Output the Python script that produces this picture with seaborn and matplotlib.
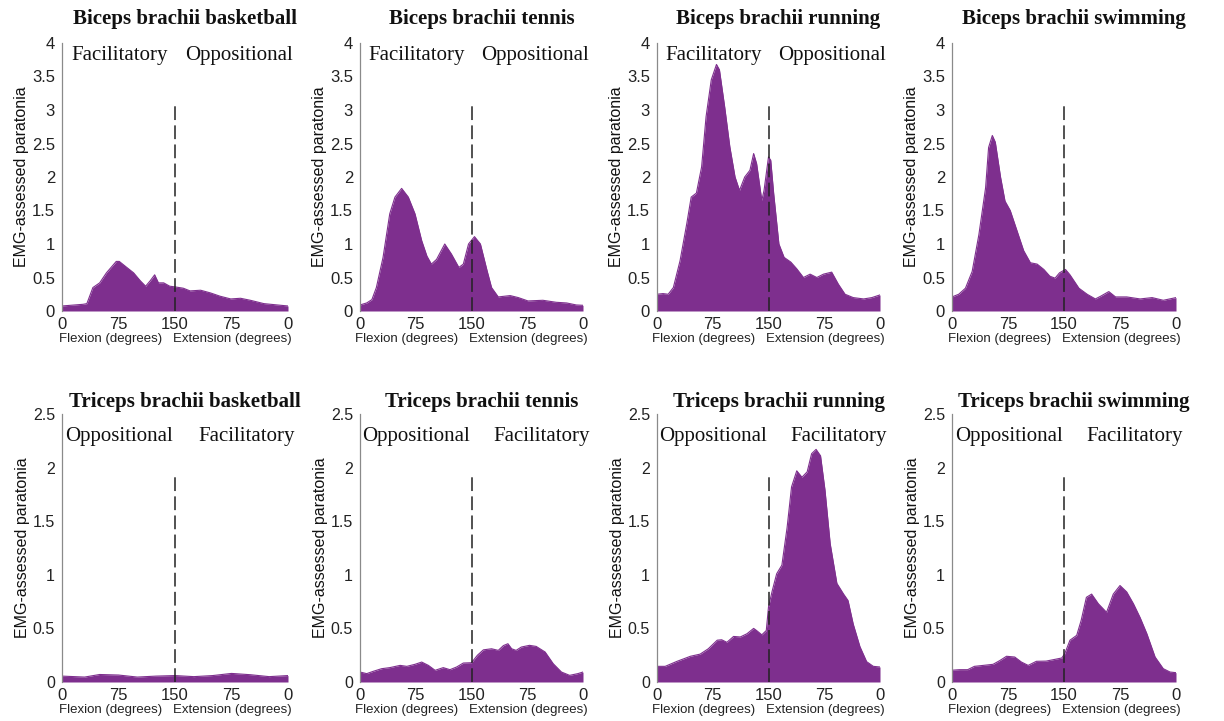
import numpy as np
import pandas as pd
import matplotlib
matplotlib.use("Agg")
import matplotlib.pyplot as plt
import seaborn as sns

# ---------------- data (x: 0-150 flexion, 150-300 = extension 150->0) ----------------
bic_basket_x = [0, 28, 33, 41, 50, 59, 72, 76, 86, 95, 104, 111, 117, 123, 128, 135, 143, 150,
                161, 170, 184, 197, 210, 224, 237, 250, 268, 286, 300]
bic_basket_y = [0.075, 0.10, 0.11, 0.35, 0.42, 0.57, 0.74, 0.74, 0.65, 0.57, 0.45, 0.37, 0.45, 0.54,
                0.42, 0.42, 0.37, 0.36, 0.34, 0.30, 0.31, 0.27, 0.22, 0.18, 0.19, 0.16, 0.11, 0.09, 0.075]

bic_tennis_x = [0, 9, 16, 22, 31, 40, 47, 56, 65, 74, 83, 90, 96, 103, 114, 123, 133, 139, 146, 154,
                162, 171, 177, 186, 202, 213, 226, 246, 264, 278, 291, 300]
bic_tennis_y = [0.09, 0.12, 0.17, 0.35, 0.80, 1.45, 1.70, 1.83, 1.70, 1.45, 1.05, 0.82, 0.70, 0.77,
                1.00, 0.85, 0.65, 0.70, 1.00, 1.11, 1.00, 0.60, 0.35, 0.21, 0.23, 0.20, 0.15, 0.16,
                0.13, 0.12, 0.09, 0.085]

bic_run_x = [0, 8, 15, 22, 31, 40, 46, 53, 60, 66, 73, 80, 84, 91, 98, 105, 111, 118, 125, 130, 134,
             141, 144, 150, 153, 157, 164, 171, 180, 188, 197, 206, 215, 224, 235, 244, 253, 264, 278,
             289, 300]
bic_run_y = [0.25, 0.26, 0.25, 0.35, 0.75, 1.30, 1.70, 1.76, 2.15, 2.90, 3.45, 3.68, 3.60, 3.05, 2.45,
             2.00, 1.80, 2.00, 2.10, 2.35, 2.20, 1.65, 1.80, 2.30, 2.25, 1.75, 1.00, 0.80, 0.73, 0.63,
             0.50, 0.55, 0.50, 0.55, 0.58, 0.40, 0.25, 0.20, 0.18, 0.20, 0.24]

bic_swim_x = [0, 9, 18, 27, 36, 45, 49, 54, 58, 65, 71, 78, 87, 96, 105, 114, 123, 131, 138, 144, 152,
              158, 170, 181, 192, 199, 210, 219, 234, 252, 268, 283, 300]
bic_swim_y = [0.21, 0.25, 0.34, 0.59, 1.14, 1.84, 2.44, 2.62, 2.52, 2.00, 1.64, 1.50, 1.20, 0.90, 0.72,
              0.70, 0.62, 0.52, 0.49, 0.57, 0.62, 0.54, 0.34, 0.25, 0.18, 0.22, 0.29, 0.21, 0.21, 0.18,
              0.20, 0.16, 0.20]

tri_basket_x = [0, 30, 50, 75, 100, 125, 150, 175, 200, 225, 250, 275, 300]
tri_basket_y = [0.055, 0.046, 0.07, 0.065, 0.046, 0.055, 0.06, 0.05, 0.06, 0.08, 0.068, 0.05, 0.06]

tri_tennis_x = [0, 9, 18, 29, 40, 54, 63, 74, 83, 92, 101, 112, 121, 130, 139, 150, 158, 166, 177, 186,
                193, 199, 204, 210, 217, 228, 237, 249, 260, 271, 282, 293, 300]
tri_tennis_y = [0.093, 0.078, 0.10, 0.124, 0.134, 0.155, 0.146, 0.165, 0.186, 0.155, 0.109, 0.134,
                0.115, 0.14, 0.177, 0.18, 0.25, 0.30, 0.31, 0.295, 0.34, 0.357, 0.31, 0.295, 0.326,
                0.342, 0.332, 0.28, 0.17, 0.093, 0.062, 0.078, 0.093]

tri_run_x = [0, 11, 27, 45, 58, 69, 81, 87, 94, 103, 112, 121, 130, 134, 141, 147, 150, 155, 161, 168,
             175, 181, 188, 195, 202, 208, 214, 220, 226, 233, 242, 251, 257, 264, 273, 282, 291, 300]
tri_run_y = [0.146, 0.146, 0.193, 0.24, 0.26, 0.31, 0.39, 0.394, 0.37, 0.425, 0.42, 0.45, 0.50, 0.48,
             0.44, 0.48, 0.70, 0.85, 1.01, 1.09, 1.44, 1.82, 1.97, 1.91, 1.96, 2.13, 2.17, 2.11, 1.79,
             1.29, 0.92, 0.82, 0.76, 0.54, 0.33, 0.19, 0.146, 0.14]

tri_swim_x = [0, 10, 21, 30, 42, 55, 64, 73, 84, 93, 102, 113, 126, 137, 147, 151, 158, 167, 173, 180,
              187, 196, 207, 216, 225, 234, 243, 252, 261, 272, 283, 292, 300]
tri_swim_y = [0.11, 0.115, 0.115, 0.146, 0.155, 0.165, 0.20, 0.24, 0.233, 0.186, 0.155, 0.193, 0.195,
              0.21, 0.224, 0.264, 0.39, 0.435, 0.575, 0.79, 0.82, 0.73, 0.65, 0.82, 0.90, 0.84, 0.73,
              0.60, 0.45, 0.233, 0.124, 0.093, 0.087]

titles = ["Biceps brachii basketball", "Biceps brachii tennis", "Biceps brachii running",
          "Biceps brachii swimming", "Triceps brachii basketball", "Triceps brachii tennis",
          "Triceps brachii running", "Triceps brachii swimming"]
series = [(bic_basket_x, bic_basket_y), (bic_tennis_x, bic_tennis_y), (bic_run_x, bic_run_y),
          (bic_swim_x, bic_swim_y), (tri_basket_x, tri_basket_y), (tri_tennis_x, tri_tennis_y),
          (tri_run_x, tri_run_y), (tri_swim_x, tri_swim_y)]

x_tick_pos = [0, 75, 150, 225, 300]
x_tick_labels = ["0", "75", "150", "75", "0"]
bic_yticks = [0, 0.5, 1, 1.5, 2, 2.5, 3, 3.5, 4]
bic_ytick_labels = ["0", "0.5", "1", "1.5", "2", "2.5", "3", "3.5", "4"]
tri_yticks = [0, 0.5, 1, 1.5, 2, 2.5]
tri_ytick_labels = ["0", "0.5", "1", "1.5", "2", "2.5"]
bic_region_labels = ["Facilitatory", "Oppositional"]
tri_region_labels = ["Oppositional", "Facilitatory"]

# ---------------- style ----------------
sns.set_style("white")
plt.rcParams["font.family"] = ["Liberation Sans", "DejaVu Sans"]
PURPLE = "#7E2F8E"
SERIF = ["Liberation Serif", "DejaVu Serif"]

fig = plt.figure(figsize=(12.24, 7.21), dpi=100)
lefts = [62, 360, 657, 952]
widths = [226, 223, 223, 224]
W, H = 1224.0, 721.0

for i, (title, (xs, ys)) in enumerate(zip(titles, series)):
    row, col = divmod(i, 4)
    if row == 0:
        bottom_px, top_px = 311, 43
    else:
        bottom_px, top_px = 682, 414
    ax = fig.add_axes([lefts[col] / W, 1 - bottom_px / H, widths[col] / W, (bottom_px - top_px) / H])
    df = pd.DataFrame({"angle": xs, "value": ys})
    sns.lineplot(data=df, x="angle", y="value", ax=ax, color=PURPLE, linewidth=0.8)
    ax.fill_between(df["angle"], 0, df["value"], color=PURPLE, linewidth=0)

    if row == 0:
        ymax, yt, ytl, dash_top, lab_y, regions = 4, bic_yticks, bic_ytick_labels, 3.1, 3.82, bic_region_labels
        lab_x = [76, 235]
        title_y = 1.09
        tfs = 12
    else:
        ymax, yt, ytl, dash_top, lab_y, regions = 2.5, tri_yticks, tri_ytick_labels, 1.93, 2.29, tri_region_labels
        lab_x = [76, 245]
        title_y = 1.045
        tfs = 11.5

    ax.plot([150, 150], [0, dash_top], color="#222222", linestyle=(0, (9, 3.5)), linewidth=1.1, zorder=5)

    ax.set_xlim(0, 300)
    ax.set_ylim(0, ymax)
    ax.set_xticks(x_tick_pos)
    ax.set_xticklabels(x_tick_labels, fontsize=12, color="#222222")
    ax.set_yticks(yt)
    ax.set_yticklabels(ytl, fontsize=tfs, color="#222222")
    ax.tick_params(axis="x", length=0, pad=4)
    ax.tick_params(axis="y", length=2, direction="in", color="#999999", pad=5)
    for s in ["top", "right", "bottom"]:
        ax.spines[s].set_visible(False)
    ax.spines["left"].set_color("#8a8a8a")
    ax.spines["left"].set_linewidth(0.9)
    ax.set_xlabel("Flexion (degrees)   Extension (degrees)", fontsize=9.5, color="#222222", labelpad=1)
    ax.set_ylabel("EMG-assessed paratonia", fontsize=11.5, color="#111111", labelpad=2)

    ax.text(0.545, title_y, title, transform=ax.transAxes, ha="center", va="center",
            fontsize=15, fontweight="bold", family=SERIF, color="#111111")
    if i != 3:
        for lx, txt in zip(lab_x, regions):
            ax.text(lx, lab_y, txt, ha="center", va="center", fontsize=15, family=SERIF, color="#111111")

fig.savefig("out.png", dpi=100)
